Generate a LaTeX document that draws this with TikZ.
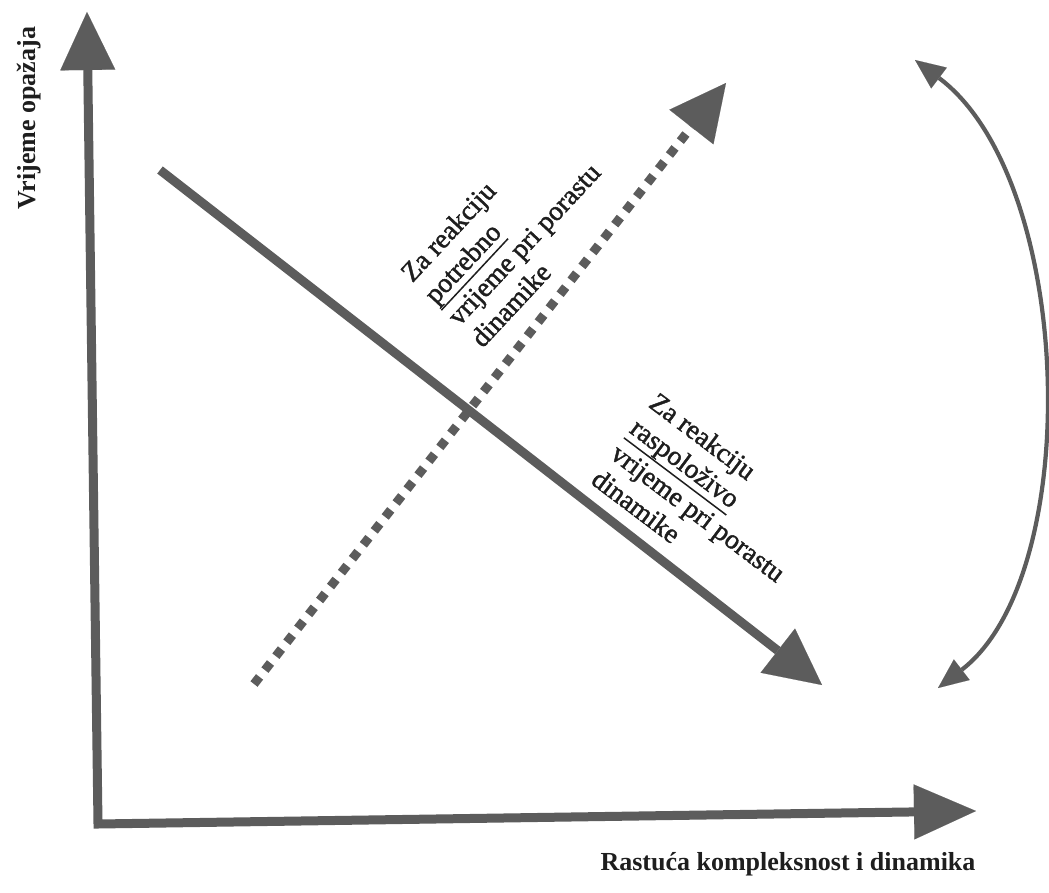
\documentclass[tikz,border=0pt]{standalone}
\usepackage{fontspec}
\setmainfont{Liberation Serif}
\newfontfamily\diagfont[FakeBold=1.5]{Liberation Serif}
\usetikzlibrary{arrows.meta}
\definecolor{linegray}{RGB}{92,92,92}
\definecolor{txt}{RGB}{30,30,30}
\newcommand\ulword[1]{\setbox0\hbox{#1}\leavevmode\rlap{\vrule height -6.8pt depth 8.3pt width \wd0}\box0}
\tikzset{
  bigtip/.style={-{Triangle[length=#1,width=#1,line width=0.1pt]}},
  axisline/.style={draw=linegray,line width=9pt,line join=miter},
  diagsolid/.style={draw=linegray,line width=9pt},
  diagdots/.style={draw=linegray,line width=9pt,dash pattern=on 9pt off 8.7pt},
  arcline/.style={draw=linegray,line width=4.2pt,{Triangle[length=30pt,width=26pt,line width=0.1pt]}-{Triangle[length=30pt,width=26pt,line width=0.1pt]}},
  axislabel/.style={inner sep=0pt,text=txt,font=\fontsize{26}{30}\selectfont\bfseries},
  difftext/.style={inner sep=0pt,text=txt,align=left,font=\diagfont\fontsize{27.5}{32}\selectfont}
}
\begin{document}
\begin{tikzpicture}[x=1pt,y=-1pt]
\useasboundingbox (0,0) rectangle (1049,893);
\fill[white] (0,0) rectangle (1049,893);
% coordinates
\coordinate (O) at (98,824);
\coordinate (ytip) at (87,12);
\coordinate (xtip) at (976,811);
\coordinate (sstart) at (160,170);
\coordinate (stip) at (822,685);
\coordinate (dstart) at (254,684);
\coordinate (dtip) at (726,83);
\coordinate (abot) at (938,688);
\coordinate (atop) at (915,60);
% axes
\draw[axisline,{Triangle[length=58pt,width=55pt,line width=0.1pt]}-{Triangle[length=62pt,width=55pt,line width=0.1pt]}] (ytip) -- (O) -- (xtip);
% diagonals
\draw[diagdots,bigtip=56pt] (dstart) -- (dtip);
\draw[diagsolid,bigtip=56pt] (sstart) -- (stip);
% curved double arrow
\draw[arcline] (abot) .. controls (1085,575) and (1075,180) .. (atop);
% labels
\node[axislabel,rotate=90] (ylab) at (29,118) {Vrijeme opažaja};
\node[axislabel] (xlab) at (788,864) {Rastuća kompleksnost i dinamika};
\node[difftext,rotate=47] (t1) at (512,233) {Za reakciju\\\ulword{potrebno}\\vrijeme pri porastu\\dinamike};
\node[difftext,rotate=-37] (t2) at (708,500) {Za reakciju\\\ulword{raspoloživo}\\vrijeme pri porastu\\dinamike};
\end{tikzpicture}
\end{document}
